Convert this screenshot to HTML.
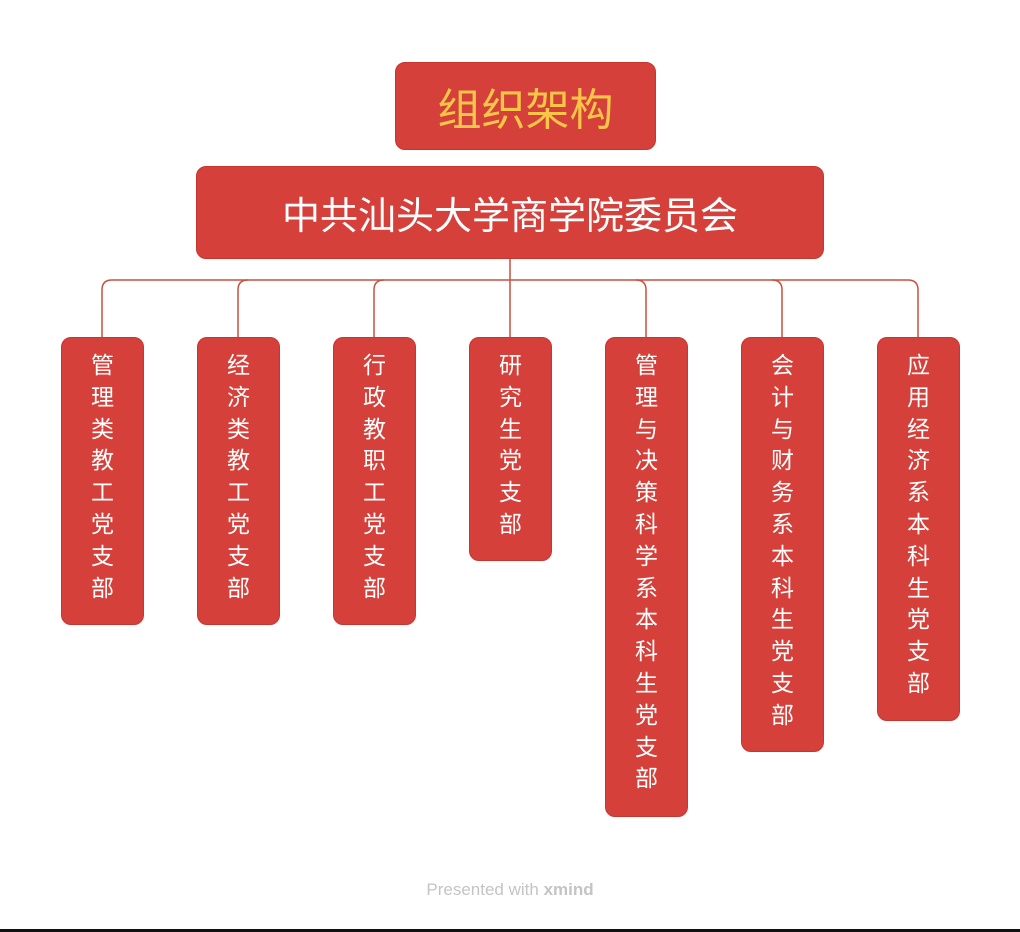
<!DOCTYPE html>
<html><head><meta charset="utf-8"><style>
html,body{margin:0;padding:0;background:#fff;}
body{width:1020px;height:932px;position:relative;overflow:hidden;font-family:"Liberation Sans","Noto Sans CJK SC",sans-serif;}
.b{position:absolute;background:#d5403a;border:1.5px solid #c8352e;box-sizing:border-box;border-radius:10px;color:#fff;}
.t{left:395px;top:62px;width:261px;height:88px;display:flex;align-items:center;justify-content:center;font-size:44px;color:#f7c548;}
.m{left:196px;top:166px;width:628px;height:93px;display:flex;align-items:center;justify-content:center;font-size:38px;}
.c{top:337px;width:83px;text-align:center;font-size:23px;line-height:31.8px;padding-top:12px;}
.f{position:absolute;left:0;width:1020px;top:880px;text-align:center;font-size:17px;color:#c4c4c4;}
.bar{position:absolute;left:0;top:929px;width:1020px;height:3px;background:#111;}
</style></head><body>
<svg width="1020" height="932" style="position:absolute;left:0;top:0">
<g fill="none" stroke="#c8513f" stroke-width="1.5">
<line x1="510" y1="258" x2="510" y2="337"/>
<path d="M102 337 V290 Q102 280 112 280 H908 Q918 280 918 290 V337"/>
<path d="M238 337 V290 Q238 280 248 280"/>
<path d="M374 337 V290 Q374 280 384 280"/>
<path d="M646 337 V290 Q646 280 636 280"/>
<path d="M782 337 V290 Q782 280 772 280"/>
</g></svg>
<div class="b t">组织架构</div>
<div class="b m">中共汕头大学商学院委员会</div>
<div class="b c" style="left:61px;height:288px">管<br>理<br>类<br>教<br>工<br>党<br>支<br>部</div>
<div class="b c" style="left:197px;height:288px">经<br>济<br>类<br>教<br>工<br>党<br>支<br>部</div>
<div class="b c" style="left:333px;height:288px">行<br>政<br>教<br>职<br>工<br>党<br>支<br>部</div>
<div class="b c" style="left:469px;height:224px">研<br>究<br>生<br>党<br>支<br>部</div>
<div class="b c" style="left:605px;height:480px">管<br>理<br>与<br>决<br>策<br>科<br>学<br>系<br>本<br>科<br>生<br>党<br>支<br>部</div>
<div class="b c" style="left:741px;height:415px">会<br>计<br>与<br>财<br>务<br>系<br>本<br>科<br>生<br>党<br>支<br>部</div>
<div class="b c" style="left:877px;height:384px">应<br>用<br>经<br>济<br>系<br>本<br>科<br>生<br>党<br>支<br>部</div>
<div class="f">Presented with <b>xmind</b></div>
<div class="bar"></div>
</body></html>
